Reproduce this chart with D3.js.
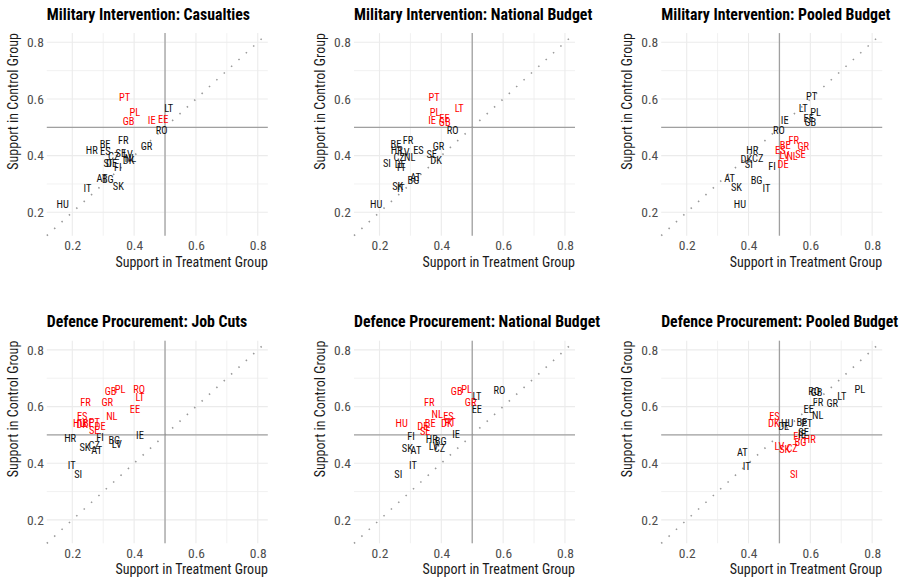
<!DOCTYPE html>
<html><head><meta charset="utf-8">
<script src="https://cdn.jsdelivr.net/npm/d3@7"></script>
<style>body{margin:0;background:#fff}svg{display:block}</style></head>
<body><svg id="chart" width="907" height="580"></svg>
<script>
// ---------- DATA ----------
const countries = ["AT","BE","BG","CZ","DE","DK","EE","ES","FI","FR","GB","GR","HR","HU","IE","IT","LT","LV","NL","PL","PT","RO","SE","SI","SK"];
const panelTitles = [
  "Military Intervention: Casualties",
  "Military Intervention: National Budget",
  "Military Intervention: Pooled Budget",
  "Defence Procurement: Job Cuts",
  "Defence Procurement: National Budget",
  "Defence Procurement: Pooled Budget"
];
const tickValues = [0.2, 0.4, 0.6, 0.8];
const tickLabels = ["0.2", "0.4", "0.6", "0.8"];
const minorTickValues = [0.3, 0.5, 0.7];
const xTitle = "Support in Treatment Group";
const yTitle = "Support in Control Group";

// Treatment (x) / Control (y) support, in the order of `countries`
const milCasTreat = [0.296,0.306,0.315,0.334,0.327,0.382,0.494,0.307,0.347,0.365,0.382,0.440,0.263,0.169,0.457,0.249,0.512,0.380,0.388,0.402,0.369,0.489,0.357,0.314,0.349];
const milCasCtrl  = [0.320,0.441,0.315,0.397,0.373,0.384,0.529,0.416,0.360,0.455,0.520,0.434,0.420,0.229,0.526,0.285,0.568,0.404,0.391,0.553,0.606,0.489,0.407,0.374,0.292];
const milCasSig   = ["EE","GB","IE","PL","PT"];

const milNatTreat = [0.317,0.253,0.310,0.264,0.267,0.383,0.410,0.326,0.269,0.292,0.411,0.391,0.256,0.189,0.370,0.269,0.458,0.281,0.298,0.380,0.377,0.437,0.369,0.224,0.259];
const milNatCtrl  = [0.324,0.441,0.312,0.393,0.371,0.385,0.530,0.418,0.359,0.455,0.518,0.434,0.420,0.229,0.525,0.285,0.568,0.413,0.394,0.554,0.606,0.491,0.406,0.373,0.293];
const milNatSig   = ["EE","GB","IE","LT","PL","PT"];

const milPoolTreat = [0.339,0.519,0.426,0.430,0.512,0.393,0.595,0.503,0.476,0.546,0.600,0.577,0.412,0.372,0.517,0.458,0.577,0.516,0.541,0.617,0.604,0.498,0.568,0.401,0.361];
const milPoolCtrl  = [0.319,0.438,0.314,0.391,0.370,0.387,0.532,0.417,0.361,0.455,0.518,0.434,0.420,0.229,0.526,0.285,0.567,0.402,0.396,0.553,0.608,0.490,0.406,0.370,0.288];
const milPoolSig   = ["BE","DE","ES","FR","GR","LV","NL","SE"];

const procJobTreat = [0.279,0.252,0.336,0.271,0.290,0.232,0.403,0.232,0.290,0.243,0.324,0.313,0.193,0.222,0.419,0.198,0.419,0.344,0.328,0.355,0.271,0.416,0.271,0.219,0.241];
const procJobCtrl  = [0.447,0.541,0.479,0.463,0.530,0.537,0.591,0.567,0.491,0.616,0.653,0.615,0.488,0.541,0.499,0.394,0.633,0.468,0.567,0.659,0.545,0.659,0.515,0.361,0.456];
const procJobSig   = ["BE","DE","DK","EE","ES","FR","GB","GR","HU","LT","NL","PL","PT","RO","SE"];

const procNatTreat = [0.318,0.364,0.398,0.394,0.340,0.418,0.515,0.423,0.302,0.361,0.450,0.495,0.369,0.272,0.448,0.308,0.515,0.375,0.387,0.482,0.428,0.588,0.348,0.261,0.290];
const procNatCtrl  = [0.445,0.541,0.476,0.453,0.529,0.541,0.591,0.565,0.495,0.615,0.653,0.614,0.485,0.541,0.502,0.391,0.635,0.459,0.571,0.659,0.544,0.656,0.512,0.359,0.451];
const procNatSig   = ["BE","DE","DK","ES","FR","GB","GR","HU","NL","PL","PT","SE"];

const procPoolTreat = [0.380,0.573,0.568,0.541,0.514,0.482,0.595,0.484,0.557,0.625,0.620,0.671,0.598,0.525,0.573,0.394,0.702,0.500,0.624,0.760,0.589,0.612,0.578,0.547,0.517];
const procPoolCtrl  = [0.438,0.543,0.473,0.453,0.529,0.539,0.589,0.565,0.494,0.614,0.651,0.612,0.485,0.541,0.502,0.388,0.635,0.459,0.568,0.659,0.541,0.655,0.510,0.359,0.449];
const procPoolSig   = ["BG","CZ","DK","ES","FI","HR","LV","SI","SK"];

const panelTreat = [milCasTreat, milNatTreat, milPoolTreat, procJobTreat, procNatTreat, procPoolTreat];
const panelCtrl  = [milCasCtrl, milNatCtrl, milPoolCtrl, procJobCtrl, procNatCtrl, procPoolCtrl];
const panelSig   = [milCasSig, milNatSig, milPoolSig, procJobSig, procNatSig, procPoolSig];

// ---------- LAYOUT / STYLE ----------
const FONT = "'Roboto Condensed', Roboto, 'Liberation Sans', sans-serif";
const domain = [0.1175, 0.8325];
const L0 = 46.8, T0 = 33.1, W = 221, H = 202.6;
const colStep = 307.2, rowStep = 307.6;

const svg = d3.select("#chart");

panelTitles.forEach((title, i) => {
  const col = i % 3, row = Math.floor(i / 3);
  const x = d3.scaleLinear().domain(domain).range([0, W]);
  const y = d3.scaleLinear().domain(domain).range([H, 0]);
  const g = svg.append("g").attr("transform", `translate(${L0 + col * colStep},${T0 + row * rowStep})`);

  // minor grid
  g.selectAll(".mgx").data(minorTickValues).join("line")
    .attr("x1", d => x(d)).attr("x2", d => x(d)).attr("y1", 0).attr("y2", H)
    .attr("stroke", "#EBEBEB").attr("stroke-width", 0.7);
  g.selectAll(".mgy").data(minorTickValues).join("line")
    .attr("y1", d => y(d)).attr("y2", d => y(d)).attr("x1", 0).attr("x2", W)
    .attr("stroke", "#EBEBEB").attr("stroke-width", 0.7);

  // axes
  const xAxis = g.append("g").attr("transform", `translate(0,${H})`)
    .call(d3.axisBottom(x).tickValues(tickValues).tickFormat((d, k) => tickLabels[k]).tickSize(0).tickPadding(5));
  const yAxis = g.append("g")
    .call(d3.axisLeft(y).tickValues(tickValues).tickFormat((d, k) => tickLabels[k]).tickSize(0).tickPadding(3));
  [xAxis, yAxis].forEach(a => {
    a.select(".domain").remove();
    a.selectAll("text").attr("fill", "#4D4D4D").style("font-family", FONT).style("font-size", "13.5px");
  });
  // major grid
  g.selectAll(".gx").data(tickValues).join("line")
    .attr("x1", d => x(d)).attr("x2", d => x(d)).attr("y1", 0).attr("y2", H)
    .attr("stroke", "#EBEBEB").attr("stroke-width", 1.1);
  g.selectAll(".gy").data(tickValues).join("line")
    .attr("y1", d => y(d)).attr("y2", d => y(d)).attr("x1", 0).attr("x2", W)
    .attr("stroke", "#EBEBEB").attr("stroke-width", 1.1);

  // reference lines at 0.5
  g.append("line").attr("x1", 0).attr("x2", W).attr("y1", y(0.5)).attr("y2", y(0.5))
    .attr("stroke", "#A0A0A0").attr("stroke-width", 1.3);
  g.append("line").attr("y1", 0).attr("y2", H).attr("x1", x(0.5)).attr("x2", x(0.5))
    .attr("stroke", "#A0A0A0").attr("stroke-width", 1.3);

  // 45-degree dotted line
  g.append("line")
    .attr("x1", x(domain[0])).attr("y1", y(domain[0]))
    .attr("x2", x(domain[1])).attr("y2", y(domain[1]))
    .attr("stroke", "#999").attr("stroke-width", 1.6)
    .attr("stroke-dasharray", "1.5 8.5").attr("stroke-linecap", "butt");

  // labels
  const data = countries.map((c, k) => ({c, t: panelTreat[i][k], v: panelCtrl[i][k], sig: panelSig[i].includes(c)}));
  g.selectAll(".lab").data(data).join("text")
    .attr("x", d => x(d.t)).attr("y", d => y(d.v))
    .attr("text-anchor", "middle").attr("dy", "0.35em")
    .style("font-family", FONT).style("font-size", "10.4px")
    .attr("fill", d => d.sig ? "#FF0000" : "#111")
    .text(d => d.c);

  // title
  g.append("text").attr("x", 0).attr("y", -13.3)
    .style("font-family", FONT).style("font-size", "15.8px").style("font-weight", "bold")
    .attr("fill", "#000").text(title);

  // axis titles
  g.append("text").attr("x", W).attr("y", H + 31)
    .attr("text-anchor", "end").style("font-family", FONT).style("font-size", "14px")
    .attr("fill", "#1A1A1A").text(xTitle);
  g.append("text").attr("transform", "translate(-29,0) rotate(-90)")
    .attr("text-anchor", "end").style("font-family", FONT).style("font-size", "14px")
    .attr("fill", "#1A1A1A").text(yTitle);
});
</script>
</body></html>
